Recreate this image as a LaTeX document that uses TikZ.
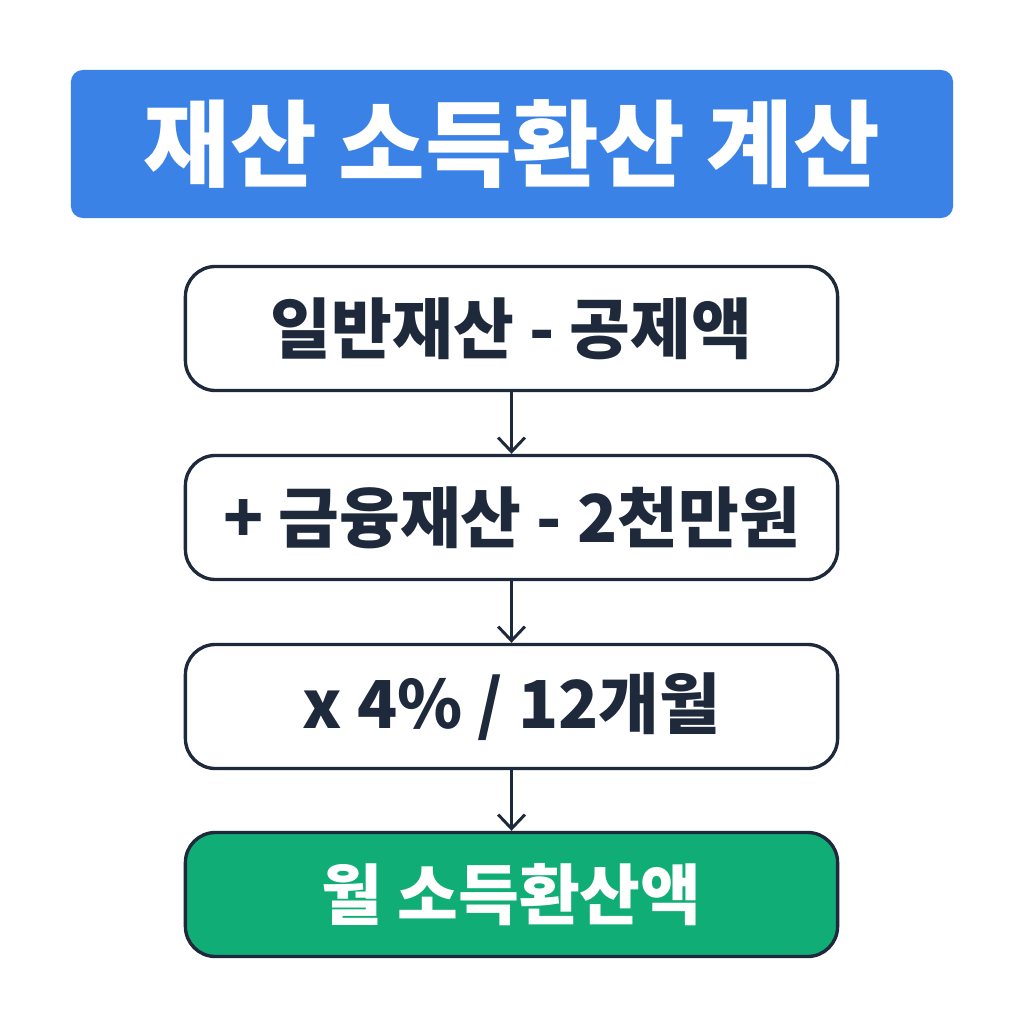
\documentclass[tikz,border=0pt]{standalone}
\usepackage{fontspec}
\setmainfont{Noto Sans CJK KR}
\usepackage{xcolor}
\usetikzlibrary{arrows.meta}
\definecolor{titleblue}{RGB}{59,130,230}
\definecolor{navy}{RGB}{30,41,59}
\definecolor{resultgreen}{RGB}{16,174,118}

\begin{document}
\begin{tikzpicture}[x=0.025cm,y=-0.025cm,
    stepbox/.style={draw=navy,line width=2.4pt,fill=white,rounded corners=0.75cm,
        minimum width=16.3cm,minimum height=3.1cm,text=navy,font=\fontsize{47}{54}\selectfont\bfseries},
    flow/.style={->,draw=navy,line width=2.1pt,>={Straight Barb[length=10pt,width=19pt]}}]
    \useasboundingbox[fill=white] (0,0) rectangle (1024,1024);
    \node[fill=titleblue,rounded corners=0.3cm,minimum width=22.05cm,minimum height=3.7cm,
        text=white,font=\fontsize{67}{74}\selectfont\bfseries] (title) at (512,144) {재산 소득환산 계산};
    \node[stepbox] (general) at (511.5,328.5) {일반재산 - 공제액};
    \node[stepbox] (finance) at (511.5,517.5) {+ 금융재산 - 2천만원};
    \node[stepbox] (rate) at (511.5,706.5) {x 4\% / 12개월};
    \node[stepbox,fill=resultgreen,text=white] (result) at (511.5,894.5) {월 소득환산액};
    
    \draw[flow] (general) -- (finance);
    \draw[flow] (finance) -- (rate);
    \draw[flow] (rate) -- (result);
\end{tikzpicture}
\end{document}
